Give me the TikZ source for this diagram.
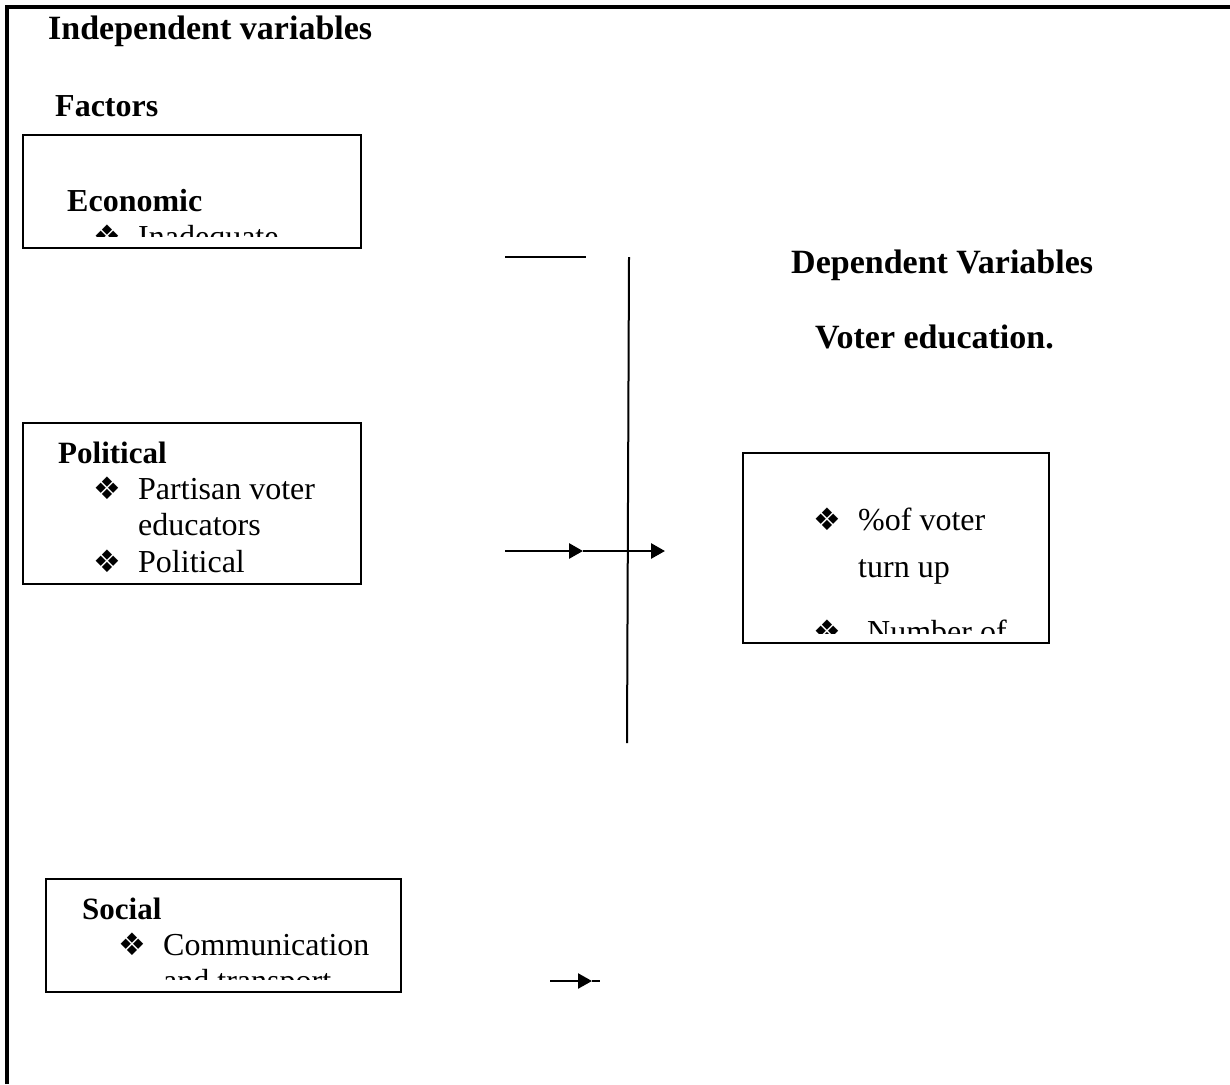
\documentclass[tikz,border=0pt]{standalone}
\usepackage{fontspec}
\setmainfont{Liberation Serif}
\newfontfamily\dingfont{DejaVu Sans}
\usetikzlibrary{arrows.meta}
\newcommand{\bul}{{\dingfont\fontsize{31}{31}\selectfont ❖}}

\tikzset{
  frame/.style={line width=3.4pt},
  factorbox/.style={draw, line width=2pt, inner sep=0pt, anchor=north west},
  head/.style={font=\fontsize{34}{40}\selectfont\bfseries, anchor=base west, inner sep=0pt},
  boxhead/.style={font=\fontsize{31}{36}\selectfont\bfseries, anchor=base west, inner sep=0pt},
  item/.style={font=\fontsize{32}{36}\selectfont, anchor=base west, inner sep=0pt},
  dot/.style={anchor=base west, inner sep=0pt},
  link/.style={line width=2.8pt, -{Triangle[length=14pt,width=15pt]}},
}

\begin{document}
\begin{tikzpicture}[x=1pt, y=-1pt]
    \useasboundingbox (0,0) rectangle (1230,1084);
    % outer frame, open at right and bottom
    \coordinate (fa) at (7,1084);
    \coordinate (fb) at (7,7);
    \coordinate (fc) at (1230,7);
    \draw[frame] (fa) -- (fb) -- (fc);

    \node[head] (indep) at (48,39) {Independent variables};
    \node[head, font=\fontsize{32}{40}\selectfont\bfseries] (factors) at (55,116) {Factors};

    % economic
    \node[factorbox, minimum width=338pt, minimum height=113pt] (econ) at (22,134) {};
    \begin{scope}
      \clip (22,134) rectangle (360,236);
      \node[head, font=\fontsize{32}{40}\selectfont\bfseries] (econhead) at (67,211) {Economic};
      \node[dot] (econbul) at (93,247) {\bul};
      \node[item] (econa) at (138,247) {Inadequate};
    \end{scope}

    % political
    \node[factorbox, minimum width=338pt, minimum height=161pt] (pol) at (22,422) {};
    \begin{scope}
      \clip (22,422) rectangle (360,578);
      \node[boxhead] (polhead) at (58,463) {Political};
      \node[dot] (polbula) at (93,499) {\bul};
      \node[item] (pola) at (138,499) {Partisan voter};
      \node[item] (polb) at (138,535) {educators};
      \node[dot] (polbulb) at (93,572) {\bul};
      \node[item] (polc) at (138,572) {Political};
    \end{scope}

    % social
    \node[factorbox, minimum width=355pt, minimum height=113pt] (soc) at (45,878) {};
    \begin{scope}
      \clip (45,878) rectangle (400,979);
      \node[boxhead] (sochead) at (82,919) {Social};
      \node[dot] (socbul) at (118,955) {\bul};
      \node[item] (soca) at (163,955) {Communication};
      \node[item] (socb) at (163,991) {and transport};
    \end{scope}

    % dependent
    \node[head] (dep) at (791,273) {Dependent Variables};
    \node[head] (voted) at (815,348) {Voter education.};
    \node[factorbox, minimum width=306pt, minimum height=190pt] (out) at (742,452) {};
    \begin{scope}
      \clip (742,452) rectangle (1048,633);
      \node[dot] (outbula) at (813,530) {\bul};
      \node[item] (outa) at (858,530) {\%of voter};
      \node[item] (outb) at (858,577) {turn up};
      \node[dot] (outbulb) at (813,642) {\bul};
      \node[item] (outc) at (867,642) {Number of};
    \end{scope}

    % lines and arrows
    \coordinate (ta) at (505,257);
    \coordinate (tb) at (586,257);
    \draw[line width=2.4pt] (ta) -- (tb);
    \coordinate (va) at (629,257);
    \coordinate (vb) at (627,743);
    \draw[line width=2pt] (va) -- (vb);
    \coordinate (ma) at (505,551);
    \coordinate (mb) at (583,551);
    \coordinate (mc) at (665,551);
    \draw[link] (ma) -- (mb);
    \draw[link] (mb) -- (mc);
    \coordinate (sa) at (550,981);
    \coordinate (sb) at (592,981);
    \coordinate (sc) at (600,981);
    \draw[link, line width=2.4pt] (sa) -- (sb);
    \draw[line width=2.4pt] (sb) -- (sc);
\end{tikzpicture}
\end{document}
